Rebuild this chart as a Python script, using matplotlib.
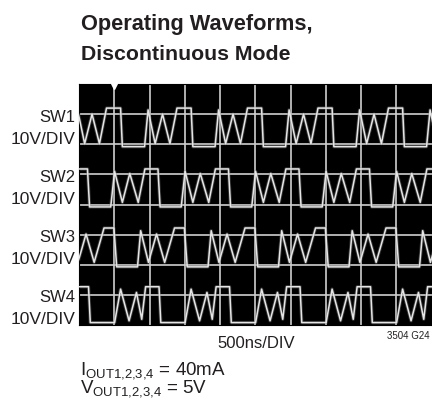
import numpy as np
import matplotlib
matplotlib.use("Agg")
import matplotlib.pyplot as plt
from matplotlib import font_manager as fm

# scope screen: 10 x 8 divisions, 500ns/DIV, 10V/DIV
n_xdiv = 10
n_ydiv = 8

# one switching cycle per channel
# times (div) relative to the start of the high plateau, levels in div from screen bottom
sw1_dt = [0.00, 0.40, 0.45, 1.08, 1.18, 1.38, 1.59, 1.80]
sw1_lv = [7.20, 7.20, 5.92, 5.92, 7.14, 6.02, 7.00, 6.02]
sw1_starts = [-1.22, 0.78, 2.78, 4.78, 6.78, 8.78, 10.78]

sw2_dt = [0.00, 0.37, 0.43, 1.03, 1.14, 1.36, 1.57, 1.81]
sw2_lv = [5.18, 5.18, 3.92, 3.92, 5.10, 4.07, 5.03, 4.07]
sw2_starts = [-0.13, 1.87, 3.87, 5.87, 7.87, 9.87]

sw3_dt = [0.00, 0.28, 0.36, 0.95, 1.04, 1.26, 1.49, 1.72]
sw3_lv = [3.22, 3.22, 1.93, 1.93, 3.13, 2.08, 3.02, 2.08]
sw3_starts = [-1.29, 0.71, 2.71, 4.71, 6.71, 8.71, 10.71]

sw4_dt = [0.00, 0.38, 0.43, 1.12, 1.29, 1.53, 1.74, 1.89]
sw4_lv = [1.27, 1.27, 0.08, 0.08, 1.19, 0.14, 1.08, 0.19]
sw4_starts = [-0.11, 1.89, 3.89, 5.89, 7.89, 9.89]

ch_names = ["SW1", "SW2", "SW3", "SW4"]
ch_scale = "10V/DIV"
trigger_x = 1.0

def trace(dt, lv, starts):
    xs = []
    ys = []
    for s in starts:
        xs += [s + d for d in dt]
        ys += lv
    #end for
    return np.array(xs), np.array(ys)
#end def

plt.rcParams["mathtext.fontset"] = "custom"
plt.rcParams["mathtext.rm"] = "Liberation Sans"
plt.rcParams["mathtext.it"] = "Liberation Sans:italic"
plt.rcParams["mathtext.bf"] = "Liberation Sans:bold"

W, H = 432, 401
fig = plt.figure(figsize=(W/100, H/100), dpi=100)
fig.patch.set_facecolor("white")
renderer = fig.canvas.get_renderer()

# axes box in pixels: x 79..431.5, y 84..325
ax = fig.add_axes([79/W, 1-325/H, 352.5/W, 241/H])
ax.set_facecolor("black")
ax.set_xlim(0, n_xdiv)
ax.set_ylim(0, n_ydiv)
ax.set_xticks([])
ax.set_yticks([])
for sp in ax.spines.values():
    sp.set_color("black")
#end for

for i in range(1, n_xdiv):
    ax.axvline(i, color="#cfcfcf", lw=1.2, zorder=1)
#end for
for j in range(1, n_ydiv):
    ax.axhline(j, color="#cfcfcf", lw=1.2, zorder=1)
#end for

for dt, lv, st in [(sw1_dt, sw1_lv, sw1_starts), (sw2_dt, sw2_lv, sw2_starts),
                   (sw3_dt, sw3_lv, sw3_starts), (sw4_dt, sw4_lv, sw4_starts)]:
    x, y = trace(dt, lv, st)
    ax.plot(x, y, color="#808080", lw=2.4, alpha=0.4, solid_joinstyle="round", zorder=2)
    ax.plot(x, y, color="#e6e6e6", lw=1.1, solid_joinstyle="round", zorder=3)
#end for

ax.plot([trigger_x], [n_ydiv - 0.05], marker="v", color="white", ms=5, clip_on=False, zorder=4)

def fx(px):
    return px / W
#end def
def fy(py):
    return 1 - py / H
#end def

# condensed face if there is one, else plain Liberation Sans squeezed to width
names = {f.name for f in fm.fontManager.ttflist}
if "Liberation Sans Narrow" in names:
    narrow = dict(family=["Liberation Sans Narrow", "DejaVu Sans"])
else:
    narrow = dict(family=["Liberation Sans", "DejaVu Sans"])
#end if
reg = dict(family=["Liberation Sans", "DejaVu Sans"])
ink = "#231f20"

def fit_text(x, y, s, width, size, font, **kw):
    t = fig.text(fx(x), fy(y), s, size=size, color=ink, va="baseline", **font, **kw)
    w = t.get_window_extent(renderer).width
    if w > width:
        t.set_size(size * width / w)
    #end if
    return t
#end def

fit_text(81, 30, "Operating Waveforms,", 231, 17.5, narrow, weight="bold", ha="left")
fit_text(81, 60, "Discontinuous Mode", 209, 17.5, narrow, weight="bold", ha="left")

label_base = [122, 182, 242, 302]
for name, b in zip(ch_names, label_base):
    fig.text(fx(75), fy(b), name, size=12, color=ink, va="baseline", ha="right", **reg)
    fig.text(fx(75), fy(b + 22), ch_scale, size=12.5, color=ink, va="baseline", ha="right", **reg)
#end for

fit_text(256, 348, "500ns/DIV", 78, 14, narrow, ha="center")
fig.text(fx(430), fy(339), "3504 G24", size=7, color=ink, va="baseline", ha="right", **reg)

# output conditions as one two-line text
cond = "I$_{\\mathrm{OUT1{,}2{,}3{,}4}}$ = 40mA\nV$_{\\mathrm{OUT1{,}2{,}3{,}4}}$ = 5V"
fig.text(fx(80), fy(360), cond, size=13.5, color=ink, va="top", ha="left",
         linespacing=0.78, **reg)

fig.savefig("out.png", dpi=100, facecolor="white")
